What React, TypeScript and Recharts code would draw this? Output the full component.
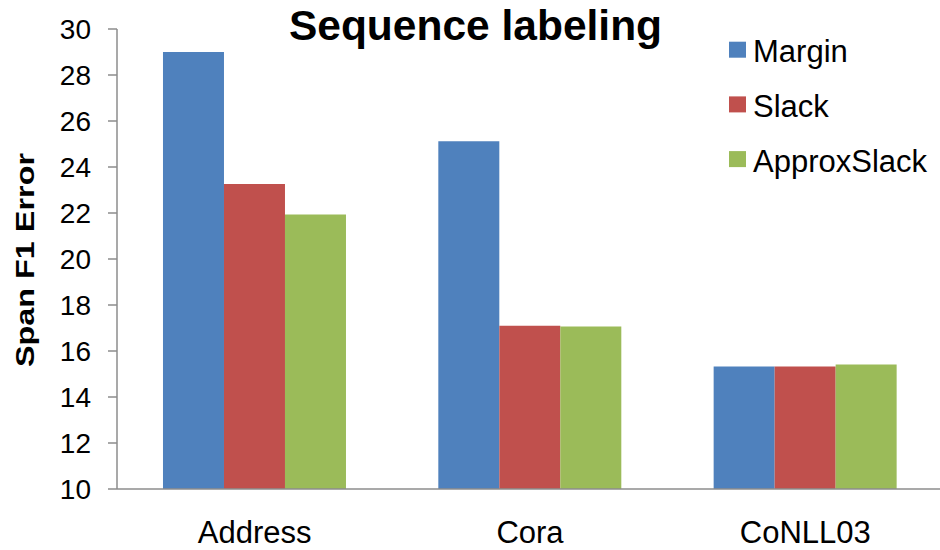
import React from 'react';
import { BarChart, Bar, XAxis, YAxis, Legend, Label } from 'recharts';

const categories = ['Address', 'Cora', 'CoNLL03'];
const marginValues = [29.0, 25.12, 15.33];
const slackValues = [23.26, 17.1, 15.33];
const approxSlackValues = [21.93, 17.07, 15.41];
const yTicks = [10, 12, 14, 16, 18, 20, 22, 24, 26, 28, 30];
const edgeTicks = [0, 1, 2, 3];
const seriesNames = ['Margin', 'Slack', 'ApproxSlack'];
const seriesColors = ['#4F81BD', '#C0504D', '#9BBB59'];

const data = categories.map((c, i) => ({
  name: c,
  Margin: marginValues[i],
  Slack: slackValues[i],
  ApproxSlack: approxSlackValues[i],
}));

const FONT = '"Liberation Sans", Arial, sans-serif';
const AXIS = '#8c8c8c';

const LegendContent = (props: any) => {
  const payload = props.payload || [];
  const ordered = seriesNames
    .map((n) => payload.find((p: any) => p.value === n))
    .filter(Boolean);
  return (
    <svg width={940} height={200} style={{ display: 'block', fontFamily: FONT }}>
      <text x={475.5} y={40} textAnchor="middle" fontWeight="bold" fontSize={42.5} fill="#000">
        Sequence labeling
      </text>
      {ordered.map((p: any, i: number) => (
        <g key={p.value}>
          <rect x={729} y={41.7 + i * 54.7} width={17} height={16} fill={p.color} />
          <text x={753} y={62.3 + i * 54.7} fontSize={31} fill="#000">
            {p.value}
          </text>
        </g>
      ))}
    </svg>
  );
};

const YLabel = () => (
  <text
    x={34}
    y={260}
    transform="rotate(-90, 34, 260)"
    textAnchor="middle"
    fontWeight="bold"
    fontSize={25}
    textLength={214}
    lengthAdjust="spacingAndGlyphs"
    fontFamily={FONT}
    fill="#000"
  >
    Span F1 Error
  </text>
);

export default function App() {
  return (
    <div style={{ position: 'absolute', left: 0, top: 0, width: 940, height: 550, overflow: 'hidden', background: '#fff', fontFamily: FONT }}>
      <BarChart
        width={946}
        height={550}
        data={data}
        margin={{ top: 29, right: 3, bottom: 0, left: 0 }}
        barCategoryGap="16.7%"
        barGap={0}
      >
        <XAxis
          xAxisId="edges"
          type="number"
          domain={[0, 3]}
          ticks={edgeTicks}
          tick={false}
          axisLine={false}
          tickLine={{ stroke: AXIS, strokeWidth: 1.5 }}
          tickSize={8}
          height={0}
          allowDataOverflow
        />
        <XAxis
          dataKey="name"
          height={61}
          axisLine={{ stroke: AXIS, strokeWidth: 1.5 }}
          tickLine={false}
          tickSize={0}
          tickMargin={32}
          tick={{ fill: '#000', fontSize: 31, fontFamily: FONT }}
        />
        <YAxis
          width={117}
          domain={[10, 30]}
          ticks={yTicks}
          allowDataOverflow
          axisLine={{ stroke: AXIS, strokeWidth: 1.5 }}
          tickLine={{ stroke: AXIS, strokeWidth: 1.5 }}
          tickSize={9}
          tickMargin={17}
          tick={{ fill: '#000', fontSize: 28, fontFamily: FONT }}
        >
          <Label content={<YLabel />} />
        </YAxis>
        <Legend
          layout="vertical"
          align="center"
          verticalAlign="middle"
          content={<LegendContent />}
          wrapperStyle={{ position: 'absolute', left: 0, top: 0, width: 940, height: 200, pointerEvents: 'none' }}
        />
        {seriesNames.map((s, i) => (
          <Bar key={s} dataKey={s} name={s} fill={seriesColors[i]} isAnimationActive={false} />
        ))}
      </BarChart>
    </div>
  );
}
